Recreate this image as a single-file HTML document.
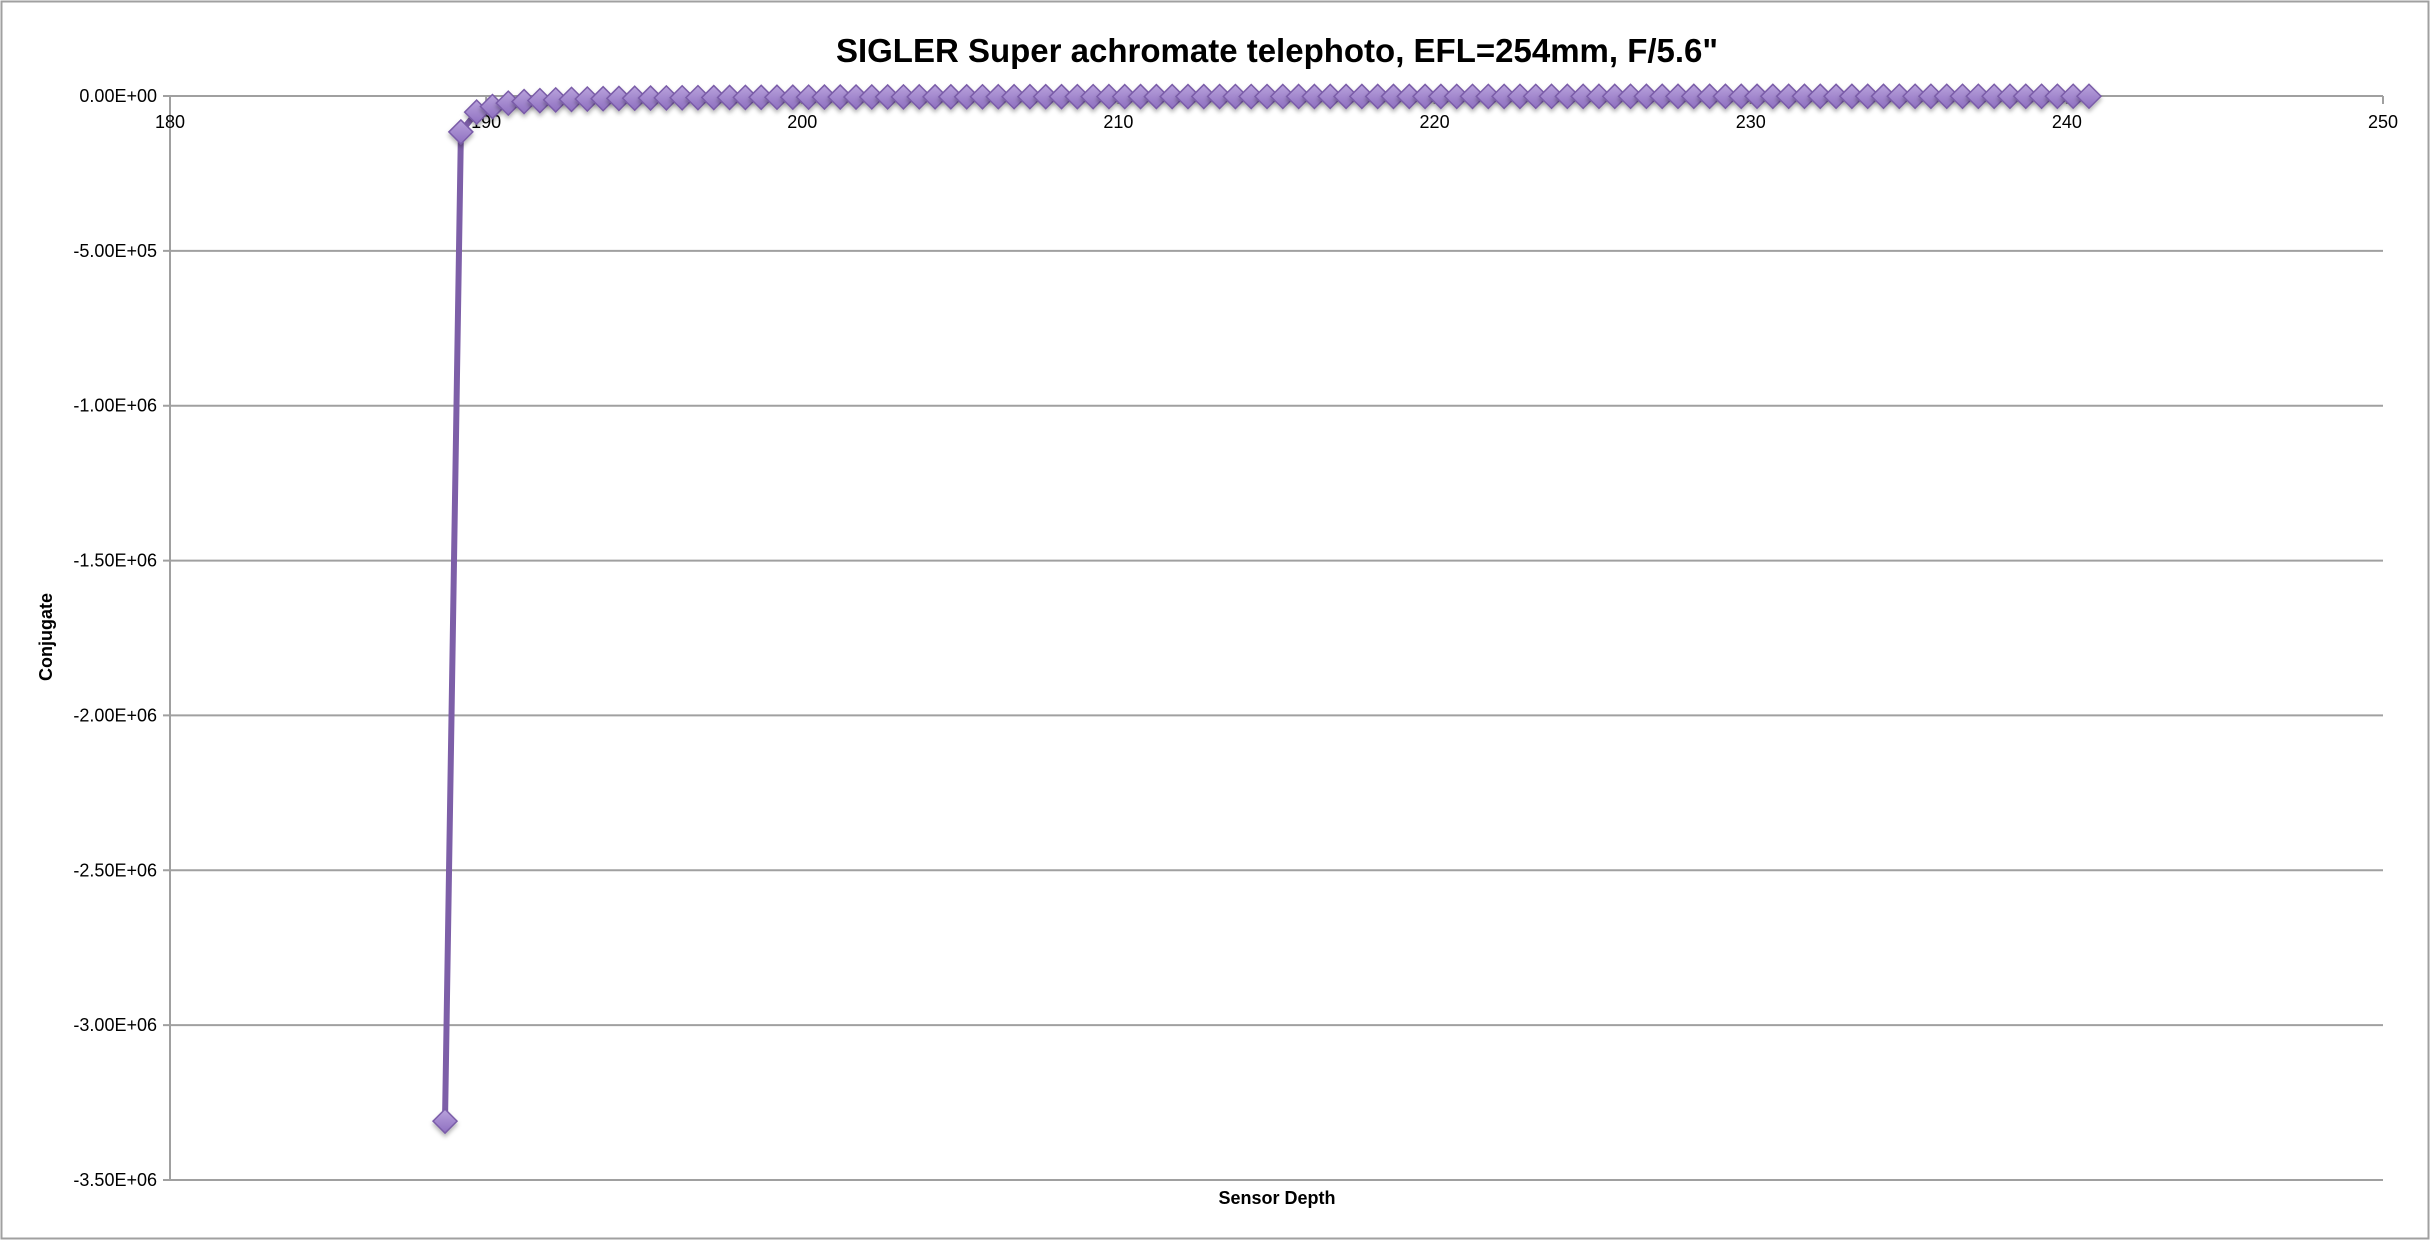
<!DOCTYPE html>
<html><head><meta charset="utf-8"><style>
html,body{margin:0;padding:0;background:#fff;}
svg{display:block;font-family:"Liberation Sans",sans-serif;}
</style></head><body>
<svg id="chart" width="2430" height="1240" viewBox="0 0 2430 1240" xmlns="http://www.w3.org/2000/svg">
<defs>
<linearGradient id="mk" x1="0" y1="0" x2="0" y2="1"><stop offset="0" stop-color="#b9a3dc"/><stop offset="1" stop-color="#8e6fc0"/></linearGradient>
<filter id="sh" x="-50%" y="-50%" width="200%" height="200%"><feDropShadow dx="0" dy="3" stdDeviation="2" flood-color="#000" flood-opacity="0.3"/></filter>
</defs>
<rect x="1.5" y="1.5" width="2427" height="1237" fill="#fff" stroke="#a0a0a0" stroke-width="2"/>
<text x="1277" y="62" text-anchor="middle" font-size="33" font-weight="bold">SIGLER Super achromate telephoto, EFL=254mm, F/5.6"</text>
<g id="grid"></g>
<g id="yticks"></g>
<g id="xticks"></g>
<text transform="translate(52,637) rotate(-90)" text-anchor="middle" font-size="18" font-weight="bold">Conjugate</text>
<text x="1277" y="1204" text-anchor="middle" font-size="18" font-weight="bold">Sensor Depth</text>
<g id="series"></g>
</svg>
<script>
const xTickValues=[180,190,200,210,220,230,240,250];
const yTickValues=[0,-500000,-1000000,-1500000,-2000000,-2500000,-3000000,-3500000];
const yTickLabels=["0.00E+00","-5.00E+05","-1.00E+06","-1.50E+06","-2.00E+06","-2.50E+06","-3.00E+06","-3.50E+06"];
const sensorDepth=[188.7,189.2,189.7,190.2,190.7,191.2,191.7,192.2,192.7,193.2,193.7,194.2,194.7,195.2,195.7,196.2,196.7,197.2,197.7,198.2,198.7,199.2,199.7,200.2,200.7,201.2,201.7,202.2,202.7,203.2,203.7,204.2,204.7,205.2,205.7,206.2,206.7,207.2,207.7,208.2,208.7,209.2,209.7,210.2,210.7,211.2,211.7,212.2,212.7,213.2,213.7,214.2,214.7,215.2,215.7,216.2,216.7,217.2,217.7,218.2,218.7,219.2,219.7,220.2,220.7,221.2,221.7,222.2,222.7,223.2,223.7,224.2,224.7,225.2,225.7,226.2,226.7,227.2,227.7,228.2,228.7,229.2,229.7,230.2,230.7,231.2,231.7,232.2,232.7,233.2,233.7,234.2,234.7,235.2,235.7,236.2,236.7,237.2,237.7,238.2,238.7,239.2,239.7,240.2,240.7];
const conjugate=[-3310000,-116000,-52000,-34000,-23000,-18000,-15000,-12600,-11000,-9700,-8700,-7800,-7200,-6600,-6100,-5700,-5300,-5000,-4700,-4500,-4200,-4000,-3850,-3700,-3500,-3400,-3250,-3130,-3010,-2910,-2810,-2720,-2630,-2550,-2480,-2400,-2340,-2270,-2210,-2160,-2100,-2050,-2000,-1950,-1910,-1870,-1825,-1785,-1748,-1712,-1677,-1644,-1612,-1582,-1552,-1524,-1496,-1470,-1444,-1420,-1396,-1373,-1351,-1329,-1308,-1288,-1268,-1249,-1231,-1213,-1195,-1178,-1162,-1146,-1130,-1115,-1101,-1086,-1072,-1059,-1045,-1032,-1020,-1007,-995,-983,-972,-961,-950,-939,-929,-918,-908,-898,-889,-879,-870,-861,-852,-844,-835,-827,-819,-811,-803];
const NS="http://www.w3.org/2000/svg";
const L=170,R=2383,T=96,B=1180,xmin=180,xmax=250,ymin=-3500000,ymax=0;
const xs=v=>L+(v-xmin)/(xmax-xmin)*(R-L);
const ys=v=>T+(ymax-v)/(ymax-ymin)*(B-T);
function mk(tag,attrs,parent){const e=document.createElementNS(NS,tag);for(const k in attrs)e.setAttribute(k,attrs[k]);parent.appendChild(e);return e;}
const grid=document.getElementById('grid'),yt=document.getElementById('yticks'),xt=document.getElementById('xticks'),ser=document.getElementById('series');
yTickValues.forEach((v,i)=>{
  const y=ys(v);
  const g=mk('line',{x1:L-7,x2:R,y1:y,y2:y,stroke:'#a0a0a0','stroke-width':2},grid);
  
  
  const t=mk('text',{x:L-13,y:y+6,'text-anchor':'end','font-size':18},yt);
  t.textContent=yTickLabels[i];
  
  
});
const ax=mk('line',{x1:L,x2:L,y1:T,y2:B,stroke:'#a0a0a0','stroke-width':2},yt);


xTickValues.forEach(v=>{
  const x=xs(v);
  const tk=mk('line',{x1:x,x2:x,y1:T,y2:T+8,stroke:'#a0a0a0','stroke-width':2},xt);
  
  
  const t=mk('text',{x:x,y:T+32,'text-anchor':'middle','font-size':18},xt);
  t.textContent=String(v);
  
  
});
const pts=sensorDepth.map((x,i)=>xs(x).toFixed(1)+','+ys(conjugate[i]).toFixed(1)).join(' ');
const line=mk('polyline',{points:pts,fill:'none',stroke:'#7d5fa8','stroke-width':6,'stroke-linejoin':'round'},ser);


sensorDepth.forEach((x,i)=>{
  const cx=xs(x),cy=ys(conjugate[i]),r=12;
  const d=mk('polygon',{points:`${cx},${cy-r} ${cx+r},${cy} ${cx},${cy+r} ${cx-r},${cy}`,fill:'url(#mk)',stroke:'#7a5ca8','stroke-width':1.5,filter:'url(#sh)'},ser);
  
  
});
</script>
</body></html>
